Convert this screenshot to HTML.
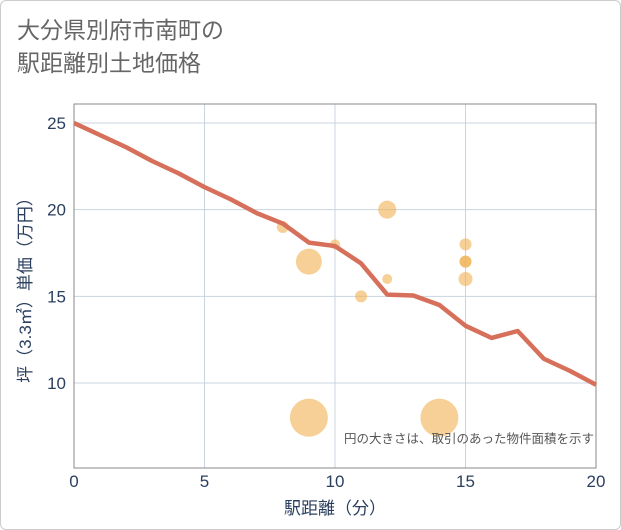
<!DOCTYPE html>
<html><head><meta charset="utf-8"><style>
body{margin:0;background:#fff;}
#card{position:absolute;left:0;top:0;width:619px;height:528px;border:1px solid #ccc;border-radius:6px;background:#fff;}
.t{font-family:"Liberation Sans","Noto Sans CJK JP",sans-serif;}
</style></head><body>
<div id="card"></div>
<div class="t" style="position:absolute;left:17px;top:14px;font-size:23px;line-height:33px;color:#666;">大分県別府市南町の<br>駅距離別土地価格</div>
<svg id="chart" width="621" height="530" style="position:absolute;left:0;top:0"></svg>
<script>
const xTicks=[0,5,10,15,20];
const yTicks=[10,15,20,25];
const lineX=[0,1,2,3,4,5,6,7,8,9,10,11,12,13,14,15,16,17,18,19,20];
const lineY=[25,24.3,23.6,22.8,22.1,21.3,20.6,19.8,19.2,18.1,17.9,16.9,15.1,15.05,14.5,13.3,12.6,13.0,11.4,10.7,9.9];
const bubX=[8,9,10,11,12,12,15,15,15,15,9,14];
const bubY=[19,17,18,15,20,16,18,17,17,16,8,8];
const bubR=[6,13,5,6,9,5,6,6,6,7,19,19];
const NS="http://www.w3.org/2000/svg";
const svg=document.getElementById('chart');
const L=74,R=596,T=104,B=468;
const X=v=>L+(v-0)/20*(R-L);
const Y=v=>383-(v-10)*(260/15);
function mk(t,a){const e=document.createElementNS(NS,t);for(const k in a)e.setAttribute(k,a[k]);svg.appendChild(e);return e;}
xTicks.forEach(v=>{
 const g=mk('line',{x1:X(v),x2:X(v),y1:T,y2:B,stroke:'#c8d4e0','stroke-width':1});
 
 
 const t=mk('text',{x:X(v),y:487,'text-anchor':'middle','font-size':17,fill:'#2a3f5f','font-family':'Liberation Sans, sans-serif'});
 t.textContent=v;
 
 
});
yTicks.forEach(v=>{
 const g=mk('line',{x1:L,x2:R,y1:Y(v),y2:Y(v),stroke:'#c8d4e0','stroke-width':1});
 
 
 const t=mk('text',{x:66,y:Y(v)+6,'text-anchor':'end','font-size':17,fill:'#2a3f5f','font-family':'Liberation Sans, sans-serif'});
 t.textContent=v;
 
 
});
const fr=mk('rect',{x:L,y:T,width:R-L,height:B-T,fill:'none',stroke:'#888','stroke-width':1});


bubX.forEach((v,i)=>{
 const c=mk('circle',{cx:X(v),cy:Y(bubY[i]),r:bubR[i],fill:'#f0b050','fill-opacity':0.6});
 
 
});
const pl=mk('polyline',{points:lineX.map((v,i)=>X(v)+','+Y(lineY[i])).join(' '),fill:'none',stroke:'#d6705a','stroke-width':4.5,'stroke-linejoin':'round'});


const note=mk('text',{x:594,y:443,'text-anchor':'end','font-size':12.5,fill:'#555','font-family':'Liberation Sans, Noto Sans CJK JP, sans-serif'});
note.textContent='円の大きさは、取引のあった物件面積を示す';


const xt=mk('text',{x:X(10),y:514,'text-anchor':'middle','font-size':17,fill:'#2a3f5f','font-family':'Liberation Sans, Noto Sans CJK JP, sans-serif'});
xt.textContent='駅距離（分）';


const yt=mk('text',{x:0,y:0,'text-anchor':'middle','font-size':17,fill:'#2a3f5f','font-family':'Liberation Sans, Noto Sans CJK JP, sans-serif',transform:'translate(31,286) rotate(-90)'});
yt.textContent='坪（3.3㎡）単価（万円）';


</script>
</body></html>
